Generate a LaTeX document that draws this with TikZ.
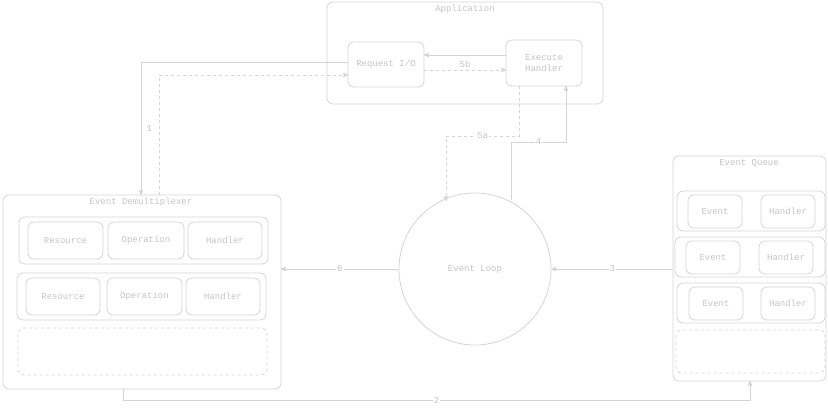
\documentclass[tikz,border=0pt]{standalone}
\usepackage{fontspec}
\setmonofont{Liberation Mono}
\usetikzlibrary{arrows}
\definecolor{ln}{HTML}{D4D4D4}
\definecolor{tx}{HTML}{C4C4C4}
\tikzset{
  box/.style = {draw=ln, rounded corners=6pt, line width=0.8pt},% rounded frame
  dbox/.style = {box, dashed},
  lbl/.style = {font=\ttfamily\fontsize{9}{10.5}\selectfont, text=tx},
  tag/.style = {lbl, fill=white, inner sep=1pt},% label on a line
  con/.style = {draw=ln, line width=0.8pt, ->, >=stealth'},
  dcon/.style = {con, dashed}
}
\newcommand{\boxat}[5]{\node[box, minimum width={(#3-#1)*1pt}, minimum height={(#4-#2)*1pt}, inner sep=0pt, align=center, lbl] at ({(#1+#3)/2},{(#2+#4)/2}) {#5};}
\begin{document}
\begin{tikzpicture}[x=1pt,y=-1pt]
\useasboundingbox (0,0) rectangle (828,408);
% application
\draw[box] (327,2) rectangle (603,104);
\node[lbl] (apptitle) at (465,9) {Application};
\node[box, lbl, minimum width=76pt, minimum height=45pt] (req) at (386,64.5) {Request I/O};
\node[box, lbl, minimum width=76pt, minimum height=46pt, align=center] (exe) at (544,63) {Execute\\Handler};
% demultiplexer
\draw[box] (3,195) rectangle (281,389);
\node[lbl] (demuxtitle) at (141,202) {Event Demultiplexer};
\draw[box] (19,217) rectangle (268,264);
\draw[box] (17,273) rectangle (266,320);
\draw[dbox] (18,328) rectangle (267,375);
\boxat{28}{222}{103}{259}{Resource}
\boxat{108}{222}{184}{259}{Operation}
\boxat{188}{222}{262}{259}{Handler}
\boxat{26}{278}{100}{315}{Resource}
\boxat{107}{278}{182}{315}{Operation}
\boxat{186}{278}{260}{315}{Handler}
% event loop
\node[circle, draw=ln, line width=0.8pt, minimum size=152pt, lbl] (loop) at (475,269) {Event Loop};
% event queue
\draw[box] (673,156) rectangle (826,381);
\node[lbl] (queuetitle) at (749,163) {Event Queue};
\draw[box] (677,191) rectangle (825,231);
\draw[box] (675,237) rectangle (825,277);
\draw[box] (677,283) rectangle (825,323);
\draw[dbox] (676,330) rectangle (825,373);
\boxat{688}{195}{742}{228}{Event}
\boxat{761}{195}{815}{228}{Handler}
\boxat{686}{241}{740}{274}{Event}
\boxat{759}{241}{813}{274}{Handler}
\boxat{689}{287}{743}{320}{Event}
\boxat{761}{287}{815}{320}{Handler}
% connectors
\coordinate (demuxtop) at (141,195);
\coordinate (demuxtopb) at (159,195);
\coordinate (demuxright) at (281,269);
\coordinate (demuxbot) at (123,389);
\coordinate (queueleft) at (673,269);
\coordinate (queuebot) at (750,381);
\coordinate (reqin) at (348,62);
\coordinate (reqdin) at (348,75);
\coordinate (reqr) at (424,55);
\coordinate (reqrd) at (424,70);
\coordinate (exel) at (506,55);
\coordinate (exeld) at (506,70);
\coordinate (exebot) at (519,86);
\coordinate (exebotb) at (566,86);
\coordinate (looptopa) at (446,201);
\coordinate (looptopb) at (511,200);
\draw[con] (reqin) -| (demuxtop) node[lbl, pos=0.75, right=2pt] {1};
\draw[dcon] (demuxtopb) |- (reqdin);
\draw[con] (exel) -- (reqr);
\draw[dcon] (reqrd) -- (exeld) node[tag, midway, above=1pt] {5b};
\draw[dcon] (exebot) -- (519,136) -- node[tag] {5a} (446,136) -- (looptopa);
\draw[con] (looptopb) -- (511,142) -- node[tag] {4} (566,142) -- (exebotb);
\draw[con] (queueleft) -- (loop.east) node[tag, midway] {3};
\draw[con] (loop.west) -- (demuxright) node[tag, midway] {6};
\draw[con] (demuxbot) -- (123,400) -- node[tag] {2} (750,400) -- (queuebot);
\end{tikzpicture}
\end{document}
